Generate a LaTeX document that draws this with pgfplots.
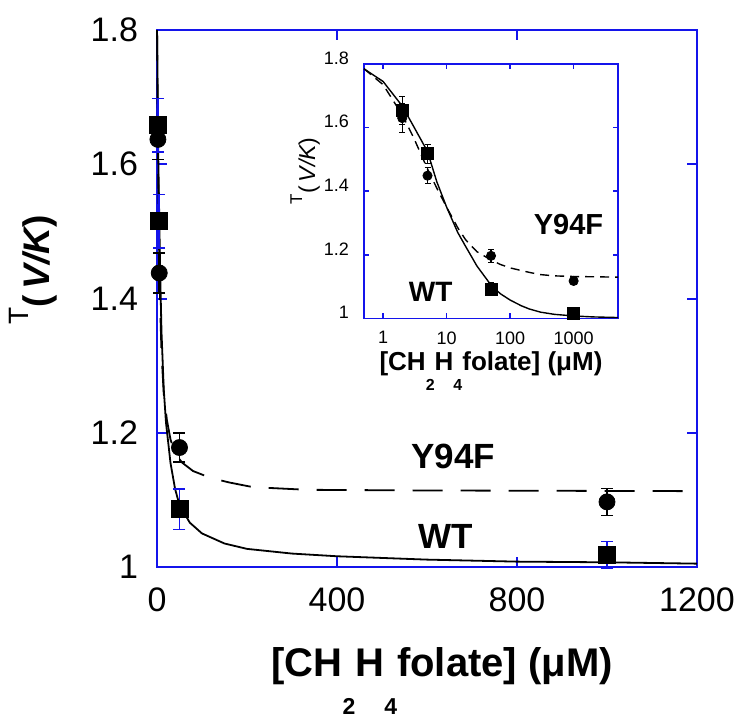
\documentclass[border=0pt]{standalone}
\usepackage{fontspec}
\setmainfont{Liberation Sans}
\usepackage{pgfplots}
\usepackage{pgfplotstable}
\pgfplotsset{compat=1.18}
\definecolor{axblue}{RGB}{20,20,235}

% main plot data
\pgfplotstableread{
x y e
2 1.658 0.04
5 1.515 0.04
50 1.086 0.03
1000 1.018 0.02
}\wtdata
\pgfplotstableread{
x y e
2 1.637 0.03
5 1.438 0.03
50 1.178 0.022
1000 1.097 0.02
}\yfdata
% inset data
\pgfplotstableread{
x y e
2 1.654 0.045
5 1.518 0.03
50 1.093 0.02
1000 1.017 0.015
}\wtin
\pgfplotstableread{
x y e
2 1.630 0.045
5 1.449 0.025
50 1.197 0.02
1000 1.118 0.012
}\yfin
% fitted curves, main
\pgfplotstableread{
x y
0 1.8
0.5 1.785
1 1.745
2 1.668
3 1.605
5 1.52
7 1.44
10 1.35
15 1.265
20 1.215
30 1.155
40 1.117
50 1.092
73 1.066
100 1.05
150 1.035
200 1.027
300 1.02
400 1.016
600 1.011
800 1.008
1000 1.007
1200 1.005
}\wtfit
\pgfplotstableread{
x y
0 1.8
0.5 1.78
1 1.73
2 1.64
3 1.57
5 1.46
7 1.39
10 1.32
15 1.258
22 1.219
30 1.19
40 1.17
55 1.156
80 1.143
118 1.133
160 1.126
213 1.119
333 1.115
600 1.114
1200 1.113
}\yffit
% fitted curves, inset
\pgfplotstableread{
x y
0.5 1.785
1 1.745
2 1.668
3 1.605
5 1.525
7 1.43
10 1.35
15 1.27
20 1.226
30 1.165
50 1.105
70 1.078
100 1.058
150 1.04
200 1.03
300 1.02
500 1.013
1000 1.008
2000 1.005
5000 1.003
}\wtfitin
\pgfplotstableread{
x y
0.5 1.785
1 1.735
2 1.64
3 1.57
5 1.47
7 1.41
10 1.35
15 1.285
20 1.247
30 1.21
50 1.184
70 1.17
100 1.159
200 1.145
300 1.138
500 1.134
1000 1.132
5000 1.13
}\yffitin

\newcommand{\ylab}[3]{{\fontsize{#2}{#2}\selectfont\raisebox{#3}{T}}{\fontsize{#1}{#1}\selectfont\bfseries(\,\itshape V/K\upshape)}}
\newcommand{\ylabin}[3]{{\fontsize{#2}{#2}\selectfont\raisebox{#3}{T}}{\fontsize{#1}{#1}\selectfont(\,\itshape V/K\upshape)}}
\newcommand{\xlab}[3]{{\fontsize{#1}{#1}\selectfont\bfseries [CH\raisebox{#3}{\fontsize{#2}{#2}\selectfont 2}H\raisebox{#3}{\fontsize{#2}{#2}\selectfont 4}folate] (μM)}}

\begin{document}
\begin{tikzpicture}
\useasboundingbox (-78.5pt,-80.5pt) rectangle (296.5pt,283.5pt);
% main axis
\begin{axis}[
  at={(0pt,0pt)}, anchor=south west,
  width=270pt, height=268.5pt, scale only axis,
  xmin=0, xmax=1200, ymin=1, ymax=1.8,
  xtick={0,400,800,1200}, ytick={1,1.2,1.4,1.6,1.8},
  /pgf/number format/assume math mode=true,
  /pgf/number format/1000 sep={},
  tick align=inside, major tick length=5pt,
  axis line style={axblue, line width=1pt},
  tick style={axblue, line width=1pt},
  ticklabel style={font=\fontsize{17}{20}\selectfont},
  xticklabel style={yshift=-7pt},
  yticklabel style={xshift=-6pt},
  xlabel={\xlab{20}{11.5}{-19pt}},
  xlabel style={at={(axis description cs:0.528,-0.2048)}, anchor=base},
  ylabel={\ylab{18.5}{14}{10.5pt}},
  ylabel style={at={(axis description cs:-0.2296,0.553)}, anchor=center},
  clip=false,
]
\addplot[black, line width=0.9pt] table[x=x,y=y]{\wtfit};
\addplot[black, line width=0.9pt, dash pattern=on 15pt off 9pt] table[x=x,y=y]{\yffit};
\addplot[only marks, mark=*, mark size=4pt, black,
  error bars/.cd, y dir=both, y explicit,
  error bar style={black, line width=0.8pt},
  error mark options={rotate=90, black, mark size=3pt, line width=0.8pt}]
  table[x=x, y=y, y error=e]{\yfdata};
\addplot[only marks, mark=square*, mark size=4.25pt, black,
  error bars/.cd, y dir=both, y explicit,
  error bar style={axblue, line width=0.8pt},
  error mark options={rotate=90, axblue, mark size=3pt, line width=0.8pt}]
  table[x=x, y=y, y error=e]{\wtdata};
\node[font=\bfseries\fontsize{17.5}{20}\selectfont] at (axis cs:658,1.165) {Y94F};
\node[font=\bfseries\fontsize{17.5}{20}\selectfont] at (axis cs:642,1.046) {WT};
\end{axis}
% inset axis
\begin{axis}[
  at={(103.5pt,124.25pt)}, anchor=south west,
  width=127pt, height=127.25pt, scale only axis,
  xmode=log, xmin=0.5, xmax=5000, ymin=1, ymax=1.8,
  xtick={1,10,100,1000}, xticklabels={1,10,100,1000},
  xminorticks=false,
  ytick={1,1.2,1.4,1.6,1.8}, yticklabels={1,1.2,1.4,1.6,1.8},
  tick align=inside, major tick length=2.5pt,
  axis line style={axblue, line width=0.8pt},
  tick style={axblue, line width=0.8pt},
  axis background/.style={fill=white},
  ticklabel style={font=\fontsize{9}{11}\selectfont},
  xticklabel style={yshift=-3pt},
  yticklabel style={xshift=-4pt, yshift=3pt},
  xlabel={\xlab{13}{8}{-10pt}},
  xlabel style={at={(axis description cs:0.5,-0.206)}, anchor=base},
  ylabel={\ylabin{11.5}{8.5}{6.5pt}},
  ylabel style={at={(axis description cs:-0.232,0.58)}, anchor=center},
  clip=false,
]
\addplot[black, line width=0.7pt] table[x=x,y=y]{\wtfitin};
\addplot[black, line width=0.7pt, dash pattern=on 4.5pt off 3pt] table[x=x,y=y]{\yffitin};
\addplot[only marks, mark=*, mark size=2.3pt, black,
  error bars/.cd, y dir=both, y explicit,
  error bar style={black, line width=0.6pt},
  error mark options={rotate=90, black, mark size=1.5pt, line width=0.6pt}]
  table[x=x, y=y, y error=e]{\yfin};
\addplot[only marks, mark=square*, mark size=3pt, black,
  error bars/.cd, y dir=both, y explicit,
  error bar style={black, line width=0.6pt},
  error mark options={rotate=90, black, mark size=1.5pt, line width=0.6pt}]
  table[x=x, y=y, y error=e]{\wtin};
\node[font=\bfseries\fontsize{14.5}{16}\selectfont] at (axis cs:830,1.294) {Y94F};
\node[font=\bfseries\fontsize{14}{16}\selectfont] at (axis cs:5.6,1.083) {WT};
\end{axis}
\end{tikzpicture}
\end{document}
